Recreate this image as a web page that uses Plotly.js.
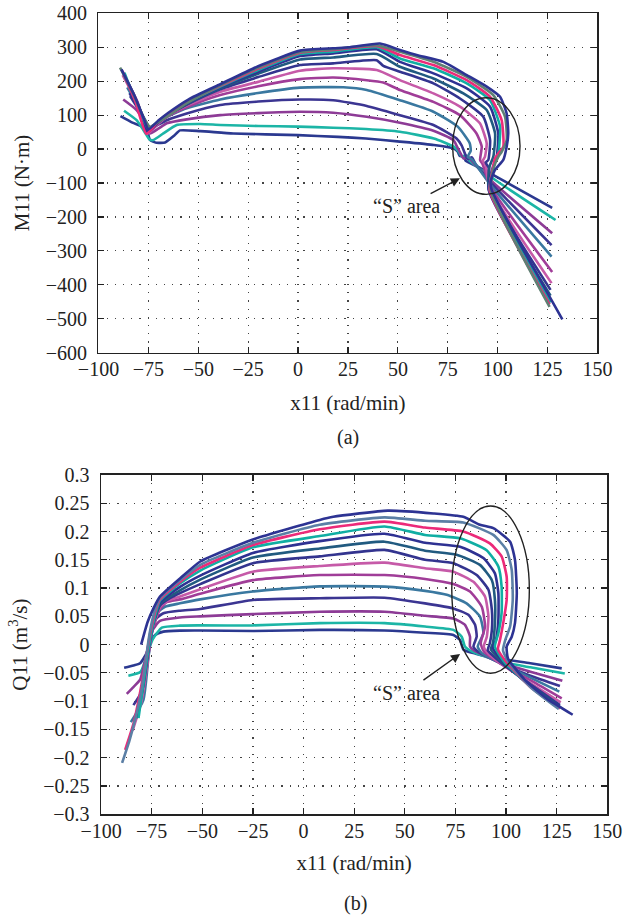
<!DOCTYPE html>
<html>
<head>
<meta charset="utf-8">
<script src="https://cdn.plot.ly/plotly-3.0.1.min.js"></script>
<style>html,body{margin:0;padding:0;background:#fff;}#chart{width:635px;height:918px;}</style>
</head>
<body>
<div id="chart"></div>
<script>
// ---------- tick labels ----------
const xTickVals = [-100, -75, -50, -25, 0, 25, 50, 75, 100, 125, 150];
const xTickText = ["\u2212100", "\u221275", "\u221250", "\u221225", "0", "25", "50", "75", "100", "125", "150"];
const mTickVals = [-600, -500, -400, -300, -200, -100, 0, 100, 200, 300, 400];
const mTickText = ["\u2212600", "\u2212500", "\u2212400", "\u2212300", "\u2212200", "\u2212100", "0", "100", "200", "300", "400"];
const qTickVals = [-0.3, -0.25, -0.2, -0.15, -0.1, -0.05, 0, 0.05, 0.1, 0.15, 0.2, 0.25, 0.3];
const qTickText = ["\u22120.3", "\u22120.25", "\u22120.2", "\u22120.15", "\u22120.1", "\u22120.05", "0", "0.05", "0.1", "0.15", "0.2", "0.25", "0.3"];

// ---------- series colours (bottom curve -> top curve) ----------
const colorsM = ["#2b3990", "#1cb5a6", "#8d3b96", "#3b3592", "#3a78a0", "#a03d98", "#c65aa8", "#33348f", "#215a80", "#2e3192", "#10aea3", "#ec2a79", "#5f8074", "#2d3393"];
const colorsQ = ["#2b3990", "#1cb5a6", "#8d3b96", "#3b3592", "#3a78a0", "#a03d98", "#c65aa8", "#33348f", "#215a80", "#2e3192", "#10aea3", "#ec2a79", "#5b7fa5", "#2d3393"];

// ---------- (a) M11 vs x11 ----------
const mX0 = [-89, -83, -76, -74.2, -71, -66.6, -62, -59.2, -49, -32.5, 0, 20, 34, 51, 68, 77.8, 80, 81, 83, 84, 90, 99.5, 127.3];
const mY0 = [97, 78, 60, 27, 18.6, 19.6, 40, 55, 53, 46, 41, 36, 31, 22, 12, 2, -8, -20, -22, -35, -52, -82, -173];
const mX1 = [-87.2, -80.9, -75.9, -74.5, -72.5, -67.5, -60.8, -49, -39, -20, 0, 17.6, 34, 51, 68, 78, 80.5, 82, 84, 86, 99, 129];
const mY1 = [113, 85, 41, 28.5, 26.5, 46, 71, 74, 71, 68, 66, 63, 59, 51, 31, 7, -8, -22, -18, -35, -92, -209];
const mX2 = [-87.6, -80.9, -75.9, -74.2, -70, -65.8, -55.8, -39, -20, 1, 17.6, 34.4, 51, 67.8, 77.8, 79.4, 81, 83, 85, 88, 98, 127.3];
const mY2 = [146, 115, 71, 46, 60, 76, 87.5, 100, 106, 110, 107, 95, 77.5, 54, 26.5, 10, -8, -28, -22, -42, -100, -248];
const mX3 = [-84.2, -77.6, -74.2, -70, -65.8, -55.8, -39, -20, 1, 17.6, 34.4, 51, 67.8, 79.4, 82, 83.5, 85, 87, 89, 97.5, 127];
const mY3 = [156, 95, 61, 72, 85, 105, 130, 140, 146, 144, 127, 100, 71, 31, 10, -12, -30, -24, -45, -105, -283];
const mX4 = [-85.6, -79.2, -74.2, -70, -65.8, -55.8, -39, -20, 1, 22.7, 34.4, 51, 67.8, 80, 86, 86.5, 85, 87, 89, 97, 127];
const mY4 = [182, 115, 62, 78, 95, 120, 146, 165, 181, 182, 174, 144, 110, 66, 17, -5, -23, -30, -45, -110, -317];
const mX5 = [-86, -80.5, -75, -70, -65, -55, -39, -20, 1, 17.6, 34.4, 42.7, 51, 67.8, 81.1, 89.4, 92, 91.2, 92.5, 96.5, 127.3];
const mY5 = [205, 140, 50, 75, 97, 125, 159, 185, 206, 211, 203, 196, 174, 139, 100, 46, 7, -32, -45, -112, -362];
const mX6 = [-87.9, -81, -75.5, -70, -65, -55, -39, -20, 1, 17.6, 39.4, 51, 67.8, 81.1, 91.1, 94.5, 93.6, 92.5, 94, 96, 127];
const mY6 = [218, 140, 45, 75, 99, 130, 169, 198, 231, 238, 233, 203, 164, 125, 76, 17, -23, -35, -48, -115, -395];
const mX7 = [-85, -80, -75, -70, -65, -55, -39, -20, 1, 17.6, 39.4, 42.7, 51, 67.8, 81.1, 92.8, 96.2, 95.3, 94, 95.5, 96, 126.5];
const mY7 = [190, 125, 52, 78, 100, 133, 176, 212, 247.5, 252.5, 262, 245, 228, 193.5, 149, 95, 26.5, -32, -40, -55, -118, -415];
const mX8 = [-86.5, -80, -74.5, -70, -65, -55, -39, -20, 1, 17.6, 39.4, 51, 67.8, 82.8, 94.5, 98.7, 97.8, 96, 95.5, 126.5];
const mY8 = [210, 128, 58, 80, 101, 135, 179, 222, 264, 270, 280, 242.5, 208, 164, 115, 46, -23, -50, -118, -432];
const mX9 = [-84.5, -80, -75.5, -70, -65, -55, -39, -20, 1, 17.6, 39.4, 51, 67.8, 84.5, 96.2, 100.3, 99.5, 97.5, 95.5, 126];
const mY9 = [165, 120, 50, 80, 102, 137, 182, 228, 274, 282, 294, 257, 223, 179, 125, 46, -23, -55, -120, -445];
const mX10 = [-87, -81, -75, -70, -65, -55, -39, -20, 1, 17.6, 39.4, 51, 67.8, 84.5, 96.2, 101.2, 100.3, 98, 96, 126.5];
const mY10 = [225, 135, 60, 82, 103, 139, 184, 233, 280, 287, 300, 267, 238, 193.5, 144, 66, -13, -50, -120, -452];
const mX11 = [-88, -81.5, -76, -70, -65, -55, -39, -20, 1, 17.6, 39.4, 51, 67.8, 84.5, 96.2, 102, 102.8, 100.3, 98.6, 97.5, 96, 126];
const mY11 = [230, 140, 45, 82, 104, 141, 186, 237, 284, 292, 303.5, 277, 247.5, 203, 154, 85, 7, -13, -28, -60, -122, -458];
const mX12 = [-89.2, -82.6, -77.6, -74.2, -70, -65.8, -55.8, -39, -20, 1, 17.6, 39.4, 51, 67.8, 84.5, 97.8, 103.7, 104.5, 102, 100.3, 98, 96.5, 126];
const mY12 = [240, 164, 95, 66, 80, 95, 135, 188, 240, 286, 294, 306, 287, 257, 213, 159, 95, 26.5, -8, -23, -55, -122, -465];
const mX13 = [-88.5, -82, -77, -75, -70, -65, -55, -39, -20, 1, 17.6, 26, 41, 51, 59.4, 72.8, 84.5, 94.5, 101.2, 104.5, 105.3, 104.5, 102.8, 98.6, 96.5, 97, 132.4];
const mY13 = [235, 158, 85, 58, 84, 107, 146, 191, 244, 290, 297, 300, 311, 292, 277, 257, 218, 184, 154, 105, 46, 7, -32, -62, -95, -120, -502];

// ---------- (b) Q11 vs x11 ----------
const qX0 = [-88.6, -84, -80.7, -77.5, -75.8, -73.3, -69.2, -61, -51, -25, 8, 40, 60, 74, 77.3, 79, 85, 97, 112, 127.5];
const qY0 = [-0.041, -0.037, -0.033, -0.015, 0.0025, 0.017, 0.023, 0.0248, 0.025, 0.024, 0.026, 0.025, 0.021, 0.017, 0.008, -0.009, -0.016, -0.025, -0.033, -0.042];
const qX1 = [-86.5, -80.4, -76.6, -74.2, -70, -61, -51, -25, 8, 40, 60, 74, 78.1, 79.7, 83, 97, 112, 129];
const qY1 = [-0.055, -0.048, -0.0094, 0.011, 0.030, 0.0336, 0.034, 0.034, 0.038, 0.038, 0.032, 0.026, 0.014, -0.0035, -0.012, -0.03, -0.04, -0.051];
const qX2 = [-87.3, -84, -80.7, -77.4, -75, -70.9, -61, -51, -25, 8, 40, 60, 74, 79.7, 82.2, 82.2, 84, 98, 112, 127.8];
const qY2 = [-0.087, -0.075, -0.062, -0.015, 0.023, 0.042, 0.048, 0.050, 0.054, 0.058, 0.058, 0.051, 0.046, 0.035, 0.014, -0.0035, -0.01, -0.033, -0.048, -0.064];
const qX3 = [-84, -79.9, -75.8, -73.3, -69.2, -61, -51, -25, 8, 40, 60, 74, 81.4, 84.7, 85.5, 83.9, 86, 99, 112, 126.6];
const qY3 = [-0.107, -0.083, 0.0025, 0.044, 0.0555, 0.060, 0.063, 0.079, 0.082, 0.083, 0.073, 0.064, 0.0526, 0.035, 0.014, -0.0035, -0.012, -0.036, -0.055, -0.073];
const qX4 = [-85.3, -79.1, -76.5, -74.5, -72.5, -68.4, -61, -51, -25, 8, 40, 60, 70.7, 80.5, 87.1, 88.8, 86, 88, 100, 113, 126.3];
const qY4 = [-0.137, -0.098, -0.02, 0.03, 0.0555, 0.067, 0.073, 0.080, 0.094, 0.103, 0.1026, 0.095, 0.088, 0.073, 0.0495, 0.020, -0.0035, -0.015, -0.038, -0.06, -0.083];
const qX5 = [-83, -79.5, -77, -75, -70.9, -67.6, -61, -51, -25, 8, 40, 60, 74, 82.2, 88, 89.6, 87.5, 89, 100, 113, 127.5];
const qY5 = [-0.13, -0.09, -0.03, 0.02, 0.063, 0.075, 0.080, 0.090, 0.114, 0.123, 0.123, 0.116, 0.107, 0.094, 0.067, 0.032, 0.0025, -0.012, -0.04, -0.065, -0.095];
const qX6 = [-84.4, -80, -77, -75, -70.9, -67, -61, -51, -25, 8, 40, 60, 74, 83.9, 89.6, 91.3, 90.5, 89, 91, 100, 112, 127];
const qY6 = [-0.152, -0.10, -0.03, 0.025, 0.066, 0.078, 0.085, 0.098, 0.129, 0.139, 0.145, 0.135, 0.129, 0.111, 0.085, 0.0495, 0.014, -0.0035, -0.015, -0.04, -0.068, -0.102];
const qX7 = [-82, -79, -76.5, -74.5, -70.9, -66, -61, -51, -25, 8, 40, 60, 74, 85.5, 91.3, 93, 93, 92, 91, 99, 112, 126.6];
const qY7 = [-0.12, -0.07, -0.01, 0.035, 0.069, 0.082, 0.091, 0.107, 0.144, 0.156, 0.1675, 0.150, 0.144, 0.123, 0.097, 0.061, 0.026, 0.0025, -0.01, -0.036, -0.07, -0.107];
const qX8 = [-82.5, -80, -77.5, -75.5, -73, -70.9, -61, -51, -25, 8, 40, 60, 75.6, 87.1, 93, 94.5, 94.5, 93.5, 92.5, 99, 112, 126.5];
const qY8 = [-0.13, -0.09, -0.03, 0.02, 0.05, 0.072, 0.096, 0.115, 0.154, 0.170, 0.182, 0.166, 0.159, 0.141, 0.114, 0.079, 0.038, 0.0025, -0.008, -0.034, -0.072, -0.110];
const qX9 = [-81, -78.5, -76, -73.5, -70.9, -61, -51, -25, 8, 40, 60, 77.3, 88.8, 94.5, 96.2, 96.2, 95, 93.5, 99, 112, 126];
const qY9 = [-0.10, -0.05, 0.005, 0.05, 0.075, 0.102, 0.122, 0.162, 0.183, 0.196, 0.180, 0.173, 0.153, 0.126, 0.091, 0.044, 0.008, -0.006, -0.032, -0.073, -0.112];
const qX10 = [-81.5, -79.5, -77.5, -75.5, -73, -70.9, -61, -51, -25, 8, 40, 60, 77.3, 90.4, 96.2, 97.8, 97.8, 96.2, 94.5, 99, 112, 126.5];
const qY10 = [-0.13, -0.08, -0.03, 0.015, 0.055, 0.078, 0.108, 0.131, 0.172, 0.192, 0.209, 0.194, 0.188, 0.167, 0.138, 0.1026, 0.056, 0.020, -0.0035, -0.03, -0.074, -0.113];
const qX11 = [-88.1, -84, -81, -78.5, -76, -73.5, -70.9, -61, -51, -25, 8, 40, 60, 78.9, 92, 97.8, 100.3, 100.3, 98.6, 97, 96, 100, 112, 126.6];
const qY11 = [-0.186, -0.14, -0.09, -0.04, 0.015, 0.055, 0.080, 0.111, 0.136, 0.176, 0.204, 0.2175, 0.207, 0.200, 0.179, 0.156, 0.120, 0.079, 0.038, 0.008, -0.008, -0.03, -0.075, -0.113];
const qX12 = [-89.6, -86, -83, -80, -78, -76, -73.5, -70.9, -61, -51, -25, 8, 40, 60, 78.9, 93.7, 100.3, 102.8, 103.3, 102, 99.6, 98.5, 101, 112, 126];
const qY12 = [-0.209, -0.17, -0.13, -0.08, -0.03, 0.02, 0.06, 0.083, 0.114, 0.141, 0.180, 0.212, 0.225, 0.219, 0.216, 0.194, 0.167, 0.132, 0.079, 0.032, 0.008, -0.01, -0.03, -0.075, -0.114];
const qX13 = [-80.2, -77, -74, -70.9, -61, -51, -25, 8, 14.7, 41.6, 64.1, 78.9, 87.1, 93.7, 102, 104.4, 105.3, 104.4, 102.8, 100.3, 101, 110, 120, 132.9];
const qY13 = [0.0, 0.04, 0.065, 0.085, 0.117, 0.147, 0.186, 0.2205, 0.226, 0.237, 0.232, 0.226, 0.212, 0.206, 0.182, 0.150, 0.091, 0.038, 0.014, -0.0035, -0.025, -0.065, -0.095, -0.124];

const mXs = [mX0, mX1, mX2, mX3, mX4, mX5, mX6, mX7, mX8, mX9, mX10, mX11, mX12, mX13];
const mYs = [mY0, mY1, mY2, mY3, mY4, mY5, mY6, mY7, mY8, mY9, mY10, mY11, mY12, mY13];
const qXs = [qX0, qX1, qX2, qX3, qX4, qX5, qX6, qX7, qX8, qX9, qX10, qX11, qX12, qX13];
const qYs = [qY0, qY1, qY2, qY3, qY4, qY5, qY6, qY7, qY8, qY9, qY10, qY11, qY12, qY13];

const traces = [];
mXs.forEach((xs, i) => traces.push({
  x: xs, y: mYs[i], type: "scatter", mode: "lines", xaxis: "x", yaxis: "y",
  line: { color: colorsM[i], width: 2.6, shape: "spline", smoothing: 0.5 },
  showlegend: false, hoverinfo: "skip"
}));
qXs.forEach((xs, i) => traces.push({
  x: xs, y: qYs[i], type: "scatter", mode: "lines", xaxis: "x2", yaxis: "y2",
  line: { color: colorsQ[i], width: 2.6, shape: "spline", smoothing: 0.5 },
  showlegend: false, hoverinfo: "skip"
}));

const FONT = "Liberation Serif, Times New Roman, serif";
const axisCommon = {
  ticks: "inside", ticklen: 6, tickwidth: 1.2, tickcolor: "#222",
  showline: true, linecolor: "#222", linewidth: 1.5, mirror: "ticks",
  showgrid: true, gridcolor: "#444", gridwidth: 1.2, griddash: "1.2px,7px",
  zeroline: false, tickfont: { family: FONT, size: 20, color: "#222" },
  fixedrange: true
};
const titleFont = { family: FONT, size: 21, color: "#222" };

const layout = {
  width: 635, height: 918,
  margin: { l: 0, r: 0, t: 0, b: 0 },
  paper_bgcolor: "#fff", plot_bgcolor: "#fff",
  font: { family: FONT, size: 20, color: "#222" },
  showlegend: false,
  xaxis: Object.assign({}, axisCommon, {
    domain: [0.1551, 0.9409], anchor: "y", range: [-100, 150], ticklabelstandoff: -2,
    tickmode: "array", tickvals: xTickVals, ticktext: xTickText,
    title: { text: "x11 (rad/min)", font: titleFont, standoff: 16 }
  }),
  yaxis: Object.assign({}, axisCommon, {
    domain: [0.6158, 0.9855], anchor: "x", range: [-600, 400], ticklabelstandoff: 6,
    tickmode: "array", tickvals: mTickVals, ticktext: mTickText,
    title: { text: "M11 (N\u00b7m)", font: titleFont, standoff: 10 }
  }),
  xaxis2: Object.assign({}, axisCommon, {
    domain: [0.1591, 0.9564], anchor: "y2", range: [-100, 150], ticklabelstandoff: -2,
    tickmode: "array", tickvals: xTickVals, ticktext: xTickText,
    title: { text: "x11 (rad/min)", font: titleFont, standoff: 14 }
  }),
  yaxis2: Object.assign({}, axisCommon, {
    domain: [0.1130, 0.4826], anchor: "x2", range: [-0.3, 0.3], ticklabelstandoff: 6,
    tickmode: "array", tickvals: qTickVals, ticktext: qTickText,
    title: { text: "Q11 (m<sup>3</sup>/s)", font: titleFont, standoff: 10 }
  }),
  shapes: [
    { type: "circle", xref: "x", yref: "y", x0: 77.4, x1: 111.2, y0: -133.5, y1: 151, line: { color: "#222", width: 1.4 } },
    { type: "circle", xref: "x2", yref: "y2", x0: 73.2, x1: 111.5, y0: -0.0506, y1: 0.245, line: { color: "#222", width: 1.4 } }
  ],
  annotations: [
    { xref: "x", yref: "y", x: 81.1, y: -86, axref: "x", ayref: "y", ax: 54.4, ay: -168,
      text: "\u201cS\u201d area", showarrow: true, arrowhead: 2, arrowsize: 1.3, arrowwidth: 1.4, arrowcolor: "#222",
      font: { family: FONT, size: 20, color: "#222" } },
    { xref: "x2", yref: "y2", x: 77.3, y: -0.0164, axref: "x2", ayref: "y2", ax: 50.6, ay: -0.085,
      text: "\u201cS\u201d area", showarrow: true, arrowhead: 2, arrowsize: 1.3, arrowwidth: 1.4, arrowcolor: "#222",
      font: { family: FONT, size: 20, color: "#222" } },
    { xref: "paper", yref: "paper", x: 348 / 635, y: 1 - 437 / 918, xanchor: "center", yanchor: "middle", text: "(a)", showarrow: false, font: { family: FONT, size: 20, color: "#222" } },
    { xref: "paper", yref: "paper", x: 355 / 635, y: 1 - 903 / 918, xanchor: "center", yanchor: "middle", text: "(b)", showarrow: false, font: { family: FONT, size: 20, color: "#222" } }
  ]
};

Plotly.newPlot("chart", traces, layout, { staticPlot: true, displayModeBar: false });
</script>
</body>
</html>
